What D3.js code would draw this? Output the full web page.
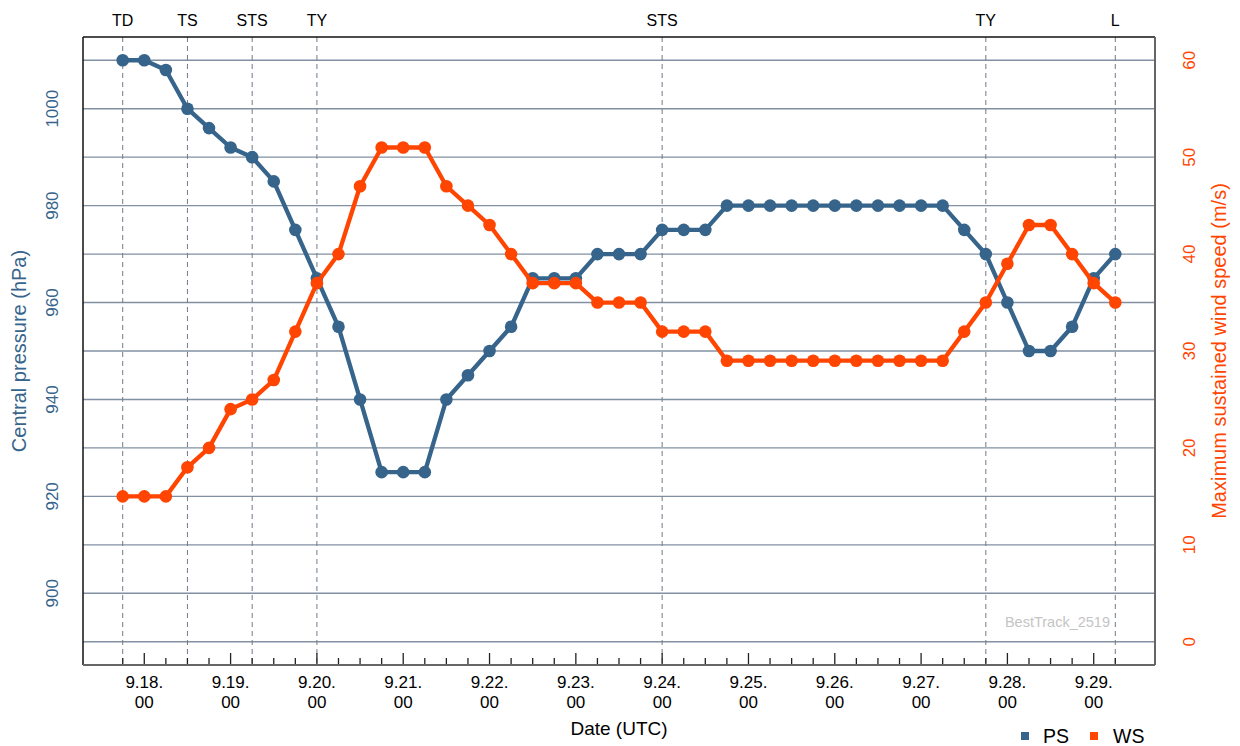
<!DOCTYPE html>
<html><head><meta charset="utf-8">
<script src="https://cdn.jsdelivr.net/npm/d3@7"></script>
<style>
html,body{margin:0;padding:0;background:#fff;}
svg{display:block;font-family:"Liberation Sans",Arial,sans-serif;}
</style></head>
<body>
<svg id="chart" width="1240" height="746"></svg>
<script>
// ---- data ----
const times = [
"2025-09-17T18","2025-09-18T00","2025-09-18T06","2025-09-18T12","2025-09-18T18",
"2025-09-19T00","2025-09-19T06","2025-09-19T12","2025-09-19T18",
"2025-09-20T00","2025-09-20T06","2025-09-20T12","2025-09-20T18",
"2025-09-21T00","2025-09-21T06","2025-09-21T12","2025-09-21T18",
"2025-09-22T00","2025-09-22T06","2025-09-22T12","2025-09-22T18",
"2025-09-23T00","2025-09-23T06","2025-09-23T12","2025-09-23T18",
"2025-09-24T00","2025-09-24T06","2025-09-24T12","2025-09-24T18",
"2025-09-25T00","2025-09-25T06","2025-09-25T12","2025-09-25T18",
"2025-09-26T00","2025-09-26T06","2025-09-26T12","2025-09-26T18",
"2025-09-27T00","2025-09-27T06","2025-09-27T12","2025-09-27T18",
"2025-09-28T00","2025-09-28T06","2025-09-28T12","2025-09-28T18",
"2025-09-29T00","2025-09-29T06"];
const pressure = [1010,1010,1008,1000,996,
992,990,985,975,
965,955,940,925,
925,925,940,945,
950,955,965,965,
965,970,970,970,
975,975,975,980,
980,980,980,980,
980,980,980,980,
980,980,975,970,
960,950,950,955,
965,970];
const wind = [15,15,15,18,20,
24,25,27,32,
37,40,47,51,
51,51,47,45,
43,40,37,37,
37,35,35,35,
32,32,32,29,
29,29,29,29,
29,29,29,29,
29,29,32,35,
39,43,43,40,
37,35];
const stageTimes = ["2025-09-17T18","2025-09-18T12","2025-09-19T06","2025-09-20T00","2025-09-24T00","2025-09-27T18","2025-09-29T06"];
const stageLabels = ["TD","TS","STS","TY","STS","TY","L"];
const dayTicks = ["2025-09-18","2025-09-19","2025-09-20","2025-09-21","2025-09-22","2025-09-23","2025-09-24","2025-09-25","2025-09-26","2025-09-27","2025-09-28","2025-09-29"];
const pressureTicks = [900,920,940,960,980,1000];
const windTicks = [0,10,20,30,40,50,60];
const gridPressure = [890,900,910,920,930,940,950,960,970,980,990,1000,1010];

// ---- layout ----
const svg = d3.select("#chart");
const L = 83, R = 1155, T = 37, B = 665;
const PS_COL = "#36648B", WS_COL = "#FF4500";
const parse = s => new Date(s + (s.length === 10 ? "T00:00:00Z" : ":00:00Z"));
const tData = times.map(parse);
const t0 = d3.min(tData), t1 = d3.max(tData);
const pad = (t1 - t0) * 0.04;
const x = d3.scaleUtc().domain([new Date(+t0 - pad), new Date(+t1 + pad)]).range([L, R]);
const yP = d3.scaleLinear().domain([885.2, 1014.8]).range([B, T]);
const yW = d3.scaleLinear().domain([-2.4, 62.4]).range([B, T]);

// grid lines
svg.append("g").selectAll("line").data(gridPressure).join("line")
  .attr("x1", L).attr("x2", R)
  .attr("y1", d => yP(d)).attr("y2", d => yP(d))
  .attr("stroke", "#8190a2").attr("stroke-width", 1.4);

// stage dashed lines + labels
const st = svg.append("g");
stageTimes.forEach((s, i) => {
  const xx = x(parse(s));
  st.append("line").attr("x1", xx).attr("x2", xx).attr("y1", T).attr("y2", B)
    .attr("stroke", "#6e7b8b").attr("stroke-width", 1).attr("stroke-dasharray", "5,4");
  st.append("text").attr("x", xx).attr("y", 26).attr("text-anchor", "middle")
    .attr("font-size", 16).attr("fill", "#000").text(stageLabels[i]);
});

// x ticks (inside, pointing up)
const minor = d3.utcHour.every(6).range(t0, new Date(+t1 + 1));
svg.append("g").selectAll("line").data(minor).join("line")
  .attr("x1", d => x(d)).attr("x2", d => x(d))
  .attr("y1", B).attr("y2", d => d.getUTCHours() === 0 ? B - 12 : B - 7)
  .attr("stroke", "#222").attr("stroke-width", 1.3);

// x labels
const xl = svg.append("g").attr("font-size", 17).attr("fill", "#000").attr("text-anchor", "middle");
dayTicks.forEach(s => {
  const d = parse(s);
  const xx = x(d);
  xl.append("text").attr("x", xx).attr("y", 688).text((d.getUTCMonth() + 1) + "." + d.getUTCDate() + ".");
  xl.append("text").attr("x", xx).attr("y", 708).text("00");
});
svg.append("text").attr("x", 619).attr("y", 735).attr("text-anchor", "middle")
  .attr("font-size", 19).attr("fill", "#000").text("Date (UTC)");

// left axis labels
const la = svg.append("g").attr("font-size", 17).attr("fill", PS_COL).attr("text-anchor", "middle");
pressureTicks.forEach(v => {
  la.append("text").attr("transform", `translate(58,${yP(v)}) rotate(-90)`).text(v);
});
svg.append("text").attr("transform", `translate(26,${(T + B) / 2}) rotate(-90)`)
  .attr("text-anchor", "middle").attr("font-size", 20).attr("fill", PS_COL).text("Central pressure (hPa)");

// right axis labels
const ra = svg.append("g").attr("font-size", 17).attr("fill", WS_COL).attr("text-anchor", "middle");
windTicks.forEach(v => {
  ra.append("text").attr("transform", `translate(1195,${yW(v)}) rotate(-90)`).text(v);
});
svg.append("text").attr("transform", `translate(1226,${(T + B) / 2}) rotate(-90)`)
  .attr("text-anchor", "middle").attr("font-size", 20).attr("fill", WS_COL).text("Maximum sustained wind speed (m/s)");

// series
const lineP = d3.line().x((d, i) => x(tData[i])).y(d => yP(d));
const lineW = d3.line().x((d, i) => x(tData[i])).y(d => yW(d));
svg.append("path").attr("d", lineP(pressure)).attr("fill", "none")
  .attr("stroke", PS_COL).attr("stroke-width", 4.3).attr("stroke-linejoin", "round");
svg.append("g").selectAll("circle").data(pressure).join("circle")
  .attr("cx", (d, i) => x(tData[i])).attr("cy", d => yP(d)).attr("r", 6.3).attr("fill", PS_COL);
svg.append("path").attr("d", lineW(wind)).attr("fill", "none")
  .attr("stroke", WS_COL).attr("stroke-width", 4.3).attr("stroke-linejoin", "round");
svg.append("g").selectAll("circle").data(wind).join("circle")
  .attr("cx", (d, i) => x(tData[i])).attr("cy", d => yW(d)).attr("r", 6.3).attr("fill", WS_COL);

// watermark
svg.append("text").attr("x", 1110).attr("y", 627).attr("text-anchor", "end")
  .attr("font-size", 14.5).attr("fill", "#c4c4c4").text("BestTrack_2519");

// frame
svg.append("line").attr("x1", L).attr("x2", R).attr("y1", T).attr("y2", T).attr("stroke", "#111").attr("stroke-width", 1.5);
svg.append("line").attr("x1", L).attr("x2", L).attr("y1", T).attr("y2", B).attr("stroke", "#111").attr("stroke-width", 1.5);
svg.append("line").attr("x1", R).attr("x2", R).attr("y1", T).attr("y2", B).attr("stroke", "#666").attr("stroke-width", 2);
svg.append("line").attr("x1", L).attr("x2", R).attr("y1", B).attr("y2", B).attr("stroke", "#666").attr("stroke-width", 2);

// legend
const lg = svg.append("g").attr("font-size", 19.5).attr("fill", "#000");
lg.append("rect").attr("x", 1021).attr("y", 732).attr("width", 8).attr("height", 8).attr("fill", PS_COL);
lg.append("text").attr("x", 1043).attr("y", 743).text("PS");
lg.append("rect").attr("x", 1090).attr("y", 732).attr("width", 8).attr("height", 8).attr("fill", WS_COL);
lg.append("text").attr("x", 1113).attr("y", 743).text("WS");
</script>
</body></html>
